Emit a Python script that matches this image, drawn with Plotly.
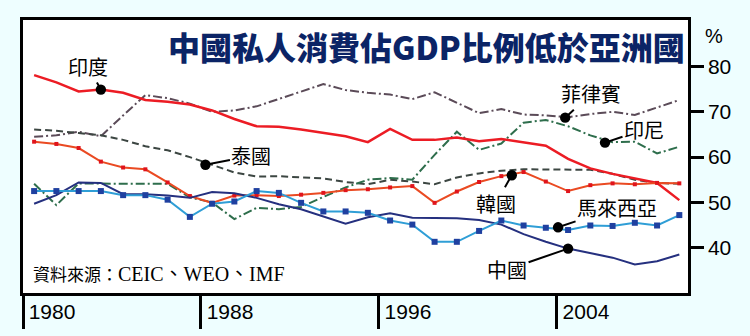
import plotly.graph_objects as go

years = list(range(1980, 2010))

india = [78.1, 76.5, 74.5, 74.9, 74.2, 72.6, 72.2, 71.6, 70.3, 68.4,
         66.8, 66.7, 66.1, 65.3, 64.6, 63.3, 66.2, 63.8, 63.8, 64.3,
         63.5, 64.0, 63.2, 62.5, 59.6, 57.5, 56.3, 55.3, 54.3, 50.5]
philippines = [64.5, 64.8, 65.6, 64.6, 69.2, 73.7, 73.0, 71.8, 70.0, 70.3,
               71.2, 72.8, 74.5, 76.1, 74.8, 74.2, 73.8, 72.8, 74.3, 72.0,
               69.7, 70.6, 69.4, 69.2, 68.8, 69.5, 70.0, 69.3, 71.0, 72.6]
thailand = [66.1, 65.8, 65.3, 64.8, 63.8, 62.4, 61.5, 60.0, 58.3, 56.6,
            55.7, 55.8, 55.5, 55.3, 54.5, 54.0, 55.0, 54.6, 54.0, 55.5,
            56.4, 57.0, 57.3, 57.3, 57.2, 57.2, 56.3, 55.0, 54.3, 54.1]
indonesia = [54.1, 49.4, 54.2, 54.1, 54.1, 54.1, 54.1, 51.1, 50.0, 46.3,
             48.8, 48.5, 49.0, 51.2, 53.3, 55.0, 55.4, 55.0, 60.5, 65.6,
             61.6, 63.0, 67.6, 68.2, 66.8, 64.8, 63.3, 63.4, 60.8, 62.3]
korea = [63.4, 62.9, 62.0, 59.0, 57.7, 57.3, 54.4, 51.4, 49.9, 51.5,
         51.6, 51.4, 51.7, 52.1, 52.7, 52.9, 53.3, 53.6, 49.9, 52.4,
         54.5, 55.8, 56.7, 54.6, 52.5, 53.8, 54.2, 54.0, 54.3, 54.2]
malaysia = [52.5, 52.5, 52.5, 52.5, 51.6, 51.6, 50.6, 46.8, 49.7, 50.2,
            52.5, 52.1, 49.9, 48.0, 48.0, 47.7, 46.0, 45.1, 41.3, 41.3,
            43.7, 46.0, 44.9, 44.4, 43.9, 44.9, 44.8, 45.5, 44.9, 47.2]
china = [49.7, 51.6, 54.4, 54.3, 51.8, 51.8, 51.5, 51.0, 52.3, 52.0,
         51.0, 49.6, 48.5, 46.9, 45.3, 46.7, 47.6, 46.6, 46.5, 46.5,
         46.1, 45.1, 43.0, 41.3, 39.8, 38.8, 37.8, 36.3, 37.0, 38.5]

title_text = "中國私人消費佔GDP比例低於亞洲國"
source_cn = "資料來源："
source_en = "CEIC、WEO、IMF"
y_ticks = [40, 50, 60, 70, 80]
x_tick_pos = [1979.5, 1987.5, 1995.5, 2003.5]
x_tick_text = ["1980", "1988", "1996", "2004"]

# labels: text, dot year, dot value, label offset (px)
label_text = ["印度", "泰國", "菲律賓", "印尼", "韓國", "馬來西亞", "中國"]
label_x = [1983.0, 1987.7, 2003.87, 2005.66, 2001.47, 2003.55, 2004.0]
label_y = [74.9, 58.3, 68.7, 63.2, 56.0, 44.5, 39.8]
label_ax = [-13, 46, 26, 39, -16, 59, -61]
label_ay = [-23, -9, -24, -13, 28, -20, 21]

fig = go.Figure()

def add(y, color, width=2, dash="solid", marker=None):
    if marker:
        fig.add_trace(go.Scatter(x=years, y=y, mode="lines+markers",
                                 line=dict(color=color, width=width, dash=dash),
                                 marker=marker, hoverinfo="skip"))
    else:
        fig.add_trace(go.Scatter(x=years, y=y, mode="lines",
                                 line=dict(color=color, width=width, dash=dash),
                                 hoverinfo="skip"))

add(philippines, "#5b4b58", 2, "9px,3px,2px,3px")
add(thailand, "#3c4642", 2, "7px,4px")
add(indonesia, "#2e6e4c", 2, "9px,3px,2px,3px")
add(india, "#ec1c24", 2.5)
add(korea, "#ea4a22", 2, "solid", dict(symbol="square", size=4, color="#e0141c"))
add(china, "#25307f", 2)
add(malaysia, "#2f9ed6", 2, "solid", dict(symbol="square", size=6, color="#1f40a0"))

annotations = []
for t, x, y, ax, ay in zip(label_text, label_x, label_y, label_ax, label_ay):
    annotations.append(dict(x=x, y=y, xref="x", yref="y", text=t,
                            showarrow=True, arrowhead=6, arrowsize=1.3,
                            arrowwidth=2, arrowcolor="black", ax=ax, ay=ay,
                            font=dict(family="Noto Sans CJK TC", size=20, color="black"),
                            startstandoff=0, standoff=0))

annotations.append(dict(x=0.999, y=0.905, xref="paper", yref="paper",
                        xanchor="right", yanchor="middle", showarrow=False,
                        text=title_text,
                        font=dict(family="Noto Sans CJK TC", size=32,
                                  color="#0b2466", weight=900)))
annotations.append(dict(x=0.012, y=0.07, xref="paper", yref="paper",
                        xanchor="left", yanchor="middle", showarrow=False,
                        text=source_cn + '<span style="font-size:20px">' + source_en + "</span>",
                        font=dict(family="Liberation Serif, Noto Sans CJK TC",
                                  size=17, color="black")))
annotations.append(dict(x=1.039, y=0.941, xref="paper", yref="paper",
                        xanchor="center", yanchor="middle", showarrow=False,
                        text="%",
                        font=dict(family="Liberation Sans", size=20, color="black")))

fig.update_layout(
    width=750, height=336,
    margin=dict(l=23, r=62, t=20, b=43),
    paper_bgcolor="#eefeff",
    plot_bgcolor="white",
    showlegend=False,
    annotations=annotations,
    xaxis=dict(range=[1979.5, 2009.39], tickvals=x_tick_pos, ticktext=x_tick_text,
               ticks="outside", ticklen=33, tickwidth=2.5, tickcolor="black",
               showline=True, linecolor="black", linewidth=2.5, mirror=True,
               showgrid=False, zeroline=False, automargin=False,
               ticklabelshift=29, ticklabelstandoff=-35,
               tickfont=dict(family="Liberation Sans", size=21, color="black")),
    yaxis=dict(range=[30, 90.26], side="right", tickvals=y_ticks,
               ticks="outside", ticklen=13, tickwidth=2.5, tickcolor="black",
               showline=True, linecolor="black", linewidth=2.5, mirror=True,
               showgrid=False, zeroline=False, automargin=False,
               tickfont=dict(family="Liberation Sans", size=21, color="black")),
)

fig.write_html("out.html")
